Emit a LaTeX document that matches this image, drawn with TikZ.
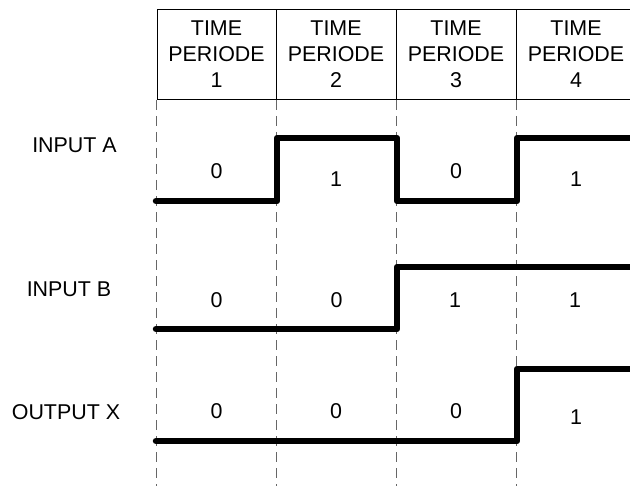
\documentclass[tikz,border=0pt]{standalone}
\usepackage{fontspec}
\setmainfont{Liberation Sans}
\begin{document}
\begin{tikzpicture}[x=1bp,y=-1bp,
  txt/.style={inner sep=0pt, font=\fontsize{21.5}{26}\selectfont, align=center},
  grid/.style={line width=1bp, black},
  guide/.style={line width=1bp, black!60, dash pattern=on 10bp off 6bp},
  sig/.style={line width=6.5bp, line cap=round, line join=round, black}]
\useasboundingbox (0,0) rectangle (630,486);

% header table
\draw[grid] (157,10) -- (640,10);
\draw[grid] (157,100) -- (640,100);
\foreach \x in {157,276.5,396.5,516.5}
  \draw[grid] (\x,10) -- (\x,100);

% time period titles
\foreach \i/\x in {1/216.5,2/336,3/456,4/576}
  \node[txt] (head\i) at (\x,54.5) {TIME\\PERIODE\\\i};

% dashed boundaries of the periods
\foreach \x in {156.5,276.5,396.5,516.5}
  \draw[guide] (\x,100) -- (\x,486);

% signal names
\node[txt] (nameA) at (74.5,145) {INPUT A};
\node[txt] (nameB) at (69,289.5) {INPUT B};
\node[txt] (nameX) at (66,412.5) {OUTPUT X};

% logic levels in each period
\node[txt] (a1) at (216.5,171) {0};
\node[txt] (a2) at (336,179) {1};
\node[txt] (a3) at (456,171) {0};
\node[txt] (a4) at (576,179) {1};

\node[txt] (b1) at (216.5,300) {0};
\node[txt] (b2) at (336.5,300) {0};
\node[txt] (b3) at (455,300) {1};
\node[txt] (b4) at (575,300) {1};

\node[txt] (x1) at (216.5,411.5) {0};
\node[txt] (x2) at (336,411.5) {0};
\node[txt] (x3) at (456,411.5) {0};
\node[txt] (x4) at (576,417) {1};

% waveforms
\draw[sig] (156,201) -- (277,201) -- (277,138) -- (397,138) -- (397,201)
  -- (517,201) -- (517,138) -- (640,138);
\draw[sig] (156,329) -- (397,329) -- (397,267) -- (640,267);
\draw[sig] (156,441) -- (517,441) -- (517,369) -- (640,369);
\end{tikzpicture}
\end{document}
